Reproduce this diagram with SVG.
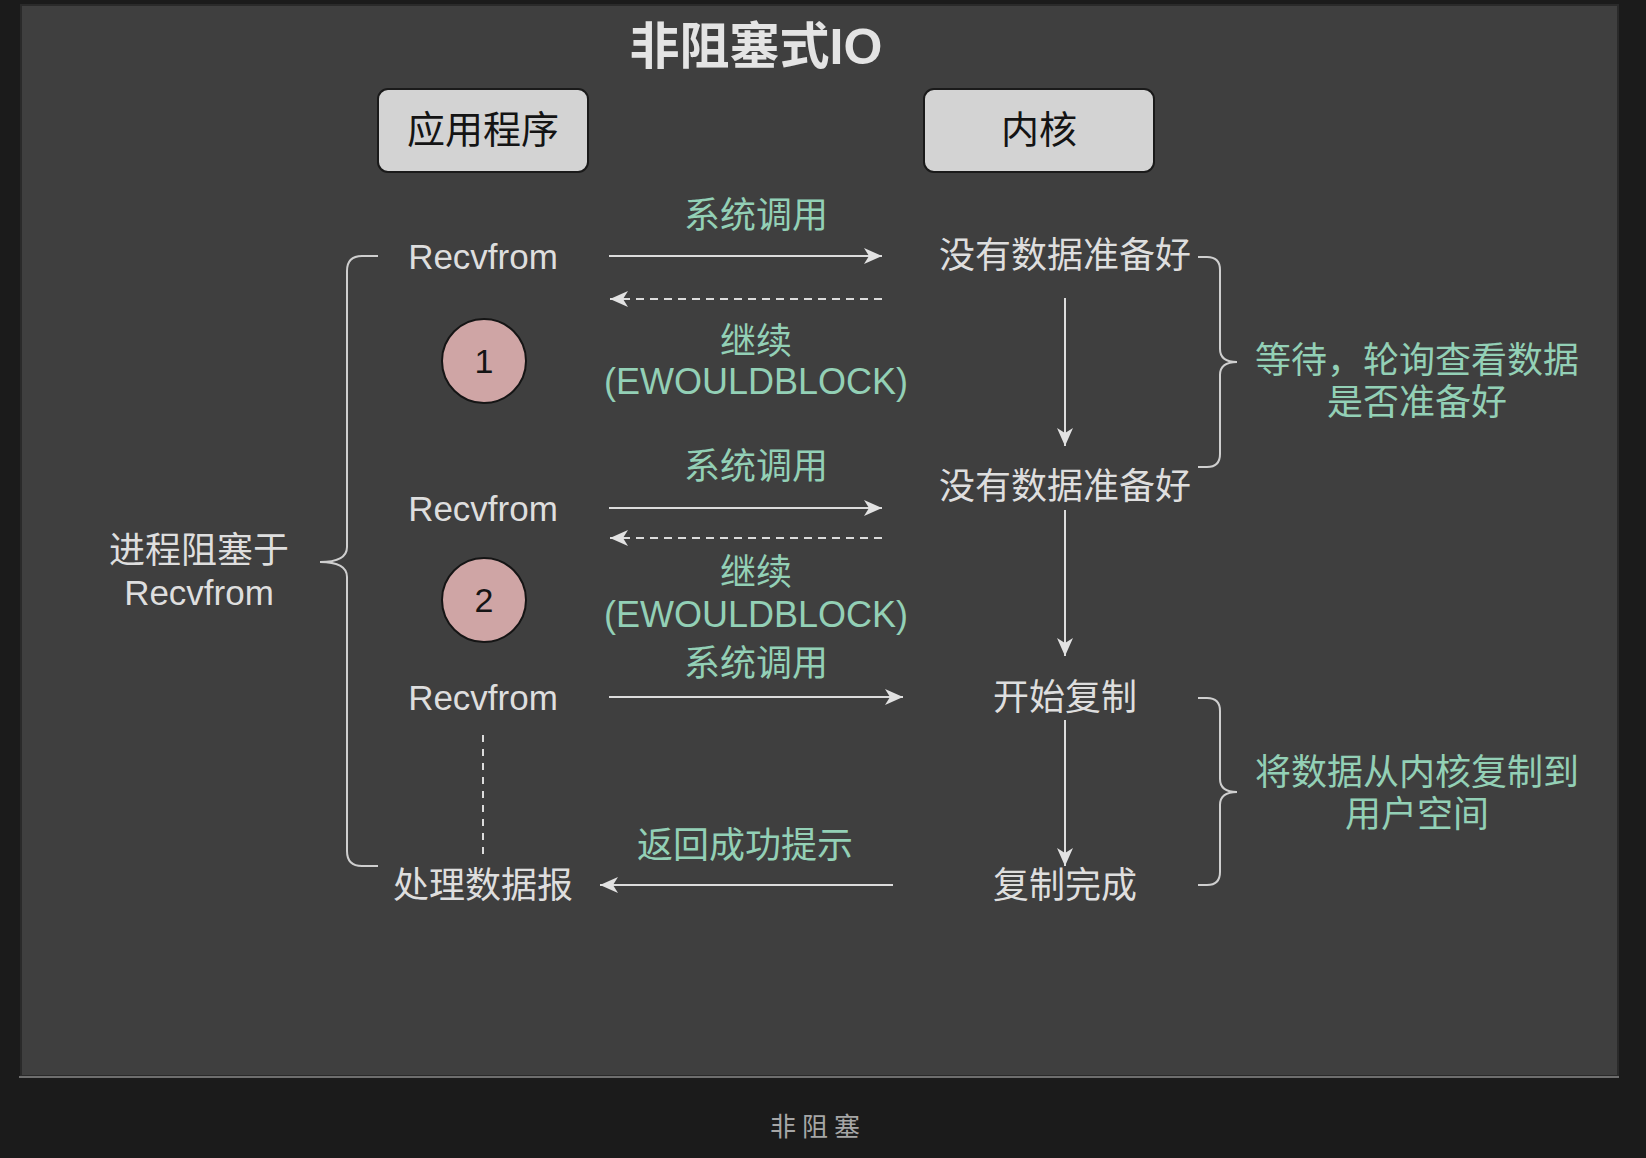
<svg xmlns="http://www.w3.org/2000/svg" width="1646" height="1158" viewBox="0 0 1646 1158">
  <defs>
    <style>
      text { font-family: "Liberation Sans", "Noto Sans CJK SC", sans-serif; text-anchor: middle; dominant-baseline: central; }
      .w { fill: #dedede; font-size: 36px; }
      .rf { fill: #dedede; font-size: 35px; }
      .g { fill: #93d0b6; font-size: 36px; }
      .box { fill: #d3d3d3; stroke: #1a1a1a; stroke-width: 2; }
      .boxt { fill: #141414; font-size: 38px; }
      .circ { fill: #cfa5a5; stroke: #151515; stroke-width: 2; }
      .num { fill: #151515; font-size: 34px; }
      .ln { stroke: #dcdcdc; stroke-width: 2; fill: none; }
      .dash { stroke-dasharray: 8 6; }
      .br { stroke: #cfcfcf; stroke-width: 2; fill: none; }
    </style>
    <marker id="ah" markerWidth="20" markerHeight="18" refX="18" refY="8" orient="auto" markerUnits="userSpaceOnUse">
      <path d="M0,0 L18,8 L0,16 L5,8 Z" fill="#e2e2e2"/>
    </marker>
  </defs>

  <rect x="0" y="0" width="1646" height="1158" fill="#1b1b1b"/>
  <rect x="21" y="5" width="1597" height="1071" fill="#3f3f3f" stroke="#2a2a2a" stroke-width="2"/>
  <line x1="19" y1="1077" x2="1619" y2="1077" stroke="#6e6e6e" stroke-width="2"/>

  <g id="title">
    <text x="756" y="47" style="font-size:50px;font-weight:bold;fill:#e4e4e4">非阻塞式IO</text>
  </g>

  <g id="app">
    <rect class="box" x="378" y="89" width="210" height="83" rx="10"/>
    <text class="boxt" x="483" y="130">应用程序</text>
  </g>
  <g id="kernel">
    <rect class="box" x="924" y="89" width="230" height="83" rx="10"/>
    <text class="boxt" x="1039" y="130">内核</text>
  </g>

  <g id="recv1"><text class="rf" x="483" y="256">Recvfrom</text></g>
  <g id="recv2"><text class="rf" x="483" y="508">Recvfrom</text></g>
  <g id="recv3"><text class="rf" x="483" y="697">Recvfrom</text></g>
  <g id="process"><text class="w" x="483" y="885">处理数据报</text></g>

  <g id="step1">
    <circle class="circ" cx="484" cy="361" r="42"/>
    <text class="num" x="484" y="361">1</text>
  </g>
  <g id="step2">
    <circle class="circ" cx="484" cy="600" r="42"/>
    <text class="num" x="484" y="600">2</text>
  </g>

  <g id="k1"><text class="w" x="1065" y="255">没有数据准备好</text></g>
  <g id="k2"><text class="w" x="1065" y="486">没有数据准备好</text></g>
  <g id="k3"><text class="w" x="1065" y="697">开始复制</text></g>
  <g id="k4"><text class="w" x="1065" y="885">复制完成</text></g>

  <g id="blocked">
    <text class="w" x="199" y="550">进程阻塞于</text>
    <text class="rf" x="199" y="592">Recvfrom</text>
  </g>
  <g id="waitnote">
    <text class="g" x="1417" y="360">等待，轮询查看数据</text>
    <text class="g" x="1417" y="402">是否准备好</text>
  </g>
  <g id="copynote">
    <text class="g" x="1417" y="772">将数据从内核复制到</text>
    <text class="g" x="1417" y="814">用户空间</text>
  </g>

  <g id="connectors">
    <line class="ln" x1="609" y1="256" x2="882" y2="256" marker-end="url(#ah)"/>
    <line class="ln dash" x1="882" y1="299" x2="610" y2="299" marker-end="url(#ah)"/>
    <line class="ln" x1="609" y1="508" x2="882" y2="508" marker-end="url(#ah)"/>
    <line class="ln dash" x1="882" y1="538" x2="610" y2="538" marker-end="url(#ah)"/>
    <line class="ln" x1="609" y1="697" x2="903" y2="697" marker-end="url(#ah)"/>
    <line class="ln" x1="893" y1="885" x2="600" y2="885" marker-end="url(#ah)"/>
    <line class="ln" x1="1065" y1="298" x2="1065" y2="446" marker-end="url(#ah)"/>
    <line class="ln" x1="1065" y1="510" x2="1065" y2="656" marker-end="url(#ah)"/>
    <line class="ln" x1="1065" y1="720" x2="1065" y2="866" marker-end="url(#ah)"/>
    <line class="ln dash" x1="483" y1="735" x2="483" y2="857" style="stroke-dasharray:7 7"/>

    <text class="g" x="756" y="215">系统调用</text>
    <text class="g" x="756" y="341">继续</text>
    <text class="g" x="756" y="381">(EWOULDBLOCK)</text>
    <text class="g" x="756" y="466">系统调用</text>
    <text class="g" x="756" y="572">继续</text>
    <text class="g" x="756" y="614">(EWOULDBLOCK)</text>
    <text class="g" x="756" y="663">系统调用</text>
    <text class="g" x="745" y="845">返回成功提示</text>

    <path class="br" d="M378,256 L362,256 Q347,256 347,271 L347,547 Q347,562 320,562 Q347,562 347,577 L347,851 Q347,866 362,866 L378,866"/>
    <path class="br" d="M1198,257 L1207,257 Q1220,257 1220,270 L1220,349 Q1220,362 1237,362 Q1220,362 1220,375 L1220,454 Q1220,467 1207,467 L1198,467"/>
    <path class="br" d="M1198,698 L1207,698 Q1220,698 1220,711 L1220,779 Q1220,792 1237,792 Q1220,792 1220,805 L1220,872 Q1220,885 1207,885 L1198,885"/>
  </g>

  <g id="caption">
    <text x="818" y="1127" style="font-size:26px;fill:#a6a6a6;letter-spacing:6px">非阻塞</text>
  </g>
</svg>
